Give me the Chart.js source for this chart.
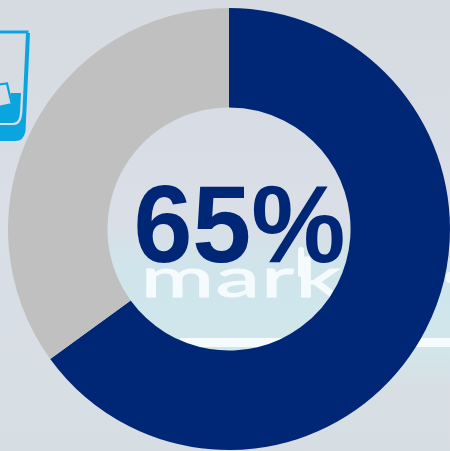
<!DOCTYPE html>
<html>
<head>
<meta charset="utf-8">
<style>
  html, body { margin: 0; padding: 0; width: 450px; height: 451px; overflow: hidden; }
  body { position: relative; background: linear-gradient(180deg, #d5dbe0 0%, #d9dee7 45%, #d7dee3 100%); }
  #glow { position: absolute; left: 100px; top: 225px; width: 350px; height: 165px;
          background: linear-gradient(180deg, rgba(205,232,238,0) 0%, rgba(205,230,236,.75) 25%, #cee6ec 50%, #d2e6ea 75%, rgba(214,221,225,0) 100%); }
  #rule { position: absolute; left: 180px; top: 338px; width: 270px; height: 9px; background: #f6fcfd; filter: blur(.6px); }
  #word { position: absolute; left: 141px; top: 242px; color: #f5fbfc; font: 400 56px/70px "Lato", sans-serif;
          -webkit-text-stroke: 1.1px #f5fbfc; letter-spacing: 1.2px; transform-origin: 0 0; transform: scale(1.58, .98); filter: blur(.5px); }
  #stem { position: absolute; left: 298px; top: 247px; width: 6px; height: 30px; border-radius: 3px; background: #f5fbfc; filter: blur(.5px); }
  #tail { position: absolute; left: 446px; top: 272px; width: 8px; height: 11px; border-radius: 4px; background: #eef8fa; filter: blur(.6px); }
  #glass { position: absolute; left: 0; top: 0; }
  #chart { position: absolute; left: 0; top: 0; }
</style>
</head>
<body>
<div id="glow"></div>
<div id="rule"></div>
<div id="word">mark</div>
<div id="stem"></div>
<div id="tail"></div>
<svg id="glass" width="40" height="150" viewBox="0 0 40 150">
  <!-- rim and outer wall of the tumbler -->
  <path d="M-4 32 H28.5" fill="none" stroke="#0aa5df" stroke-width="3"/>
  <path d="M-2 141 H15 Q24 141 25.5 131 L30 33 L26 33 L22.5 110 Q22 125 14 125 H-2 Z" fill="#0aa5df"/>
  <!-- water with the ice cube sitting in it -->
  <path d="M-2 123 H13 Q19.5 123 20 112 L21 93 H10.5 L12 103 L-2 106 Z" fill="#0aa5df"/>
  <path d="M-2 84.5 L7 83.5 L11.5 103" fill="none" stroke="#0aa5df" stroke-width="2.2"/>
</svg>
<canvas id="chart" width="450" height="451"></canvas>
<script src="https://cdn.jsdelivr.net/npm/chart.js@4/dist/chart.umd.min.js"></script>
<script>
const categories = ['Yes', 'No'];
const shares = [65, 35];
const sliceColors = ['#002776', '#c0c0c0'];
const centerLabel = '65%';

// Writes the headline figure in the hole of the ring, stretched a little in height
const centerText = {
  id: 'centerText',
  afterDatasetsDraw(chart) {
    const arc = chart.getDatasetMeta(0).data[0];
    const c = chart.ctx;
    c.save();
    c.translate(arc.x + 10.5, arc.y + 33);
    c.scale(1, 1.04);
    c.font = 'bold 106px "Liberation Sans", Arial, sans-serif';
    c.fillStyle = '#002776';
    c.textAlign = 'center';
    c.textBaseline = 'alphabetic';
    c.fillText(centerLabel, 0, 0);
    c.restore();
  }
};

new Chart(document.getElementById('chart'), {
  type: 'doughnut',
  data: {
    labels: categories,
    datasets: [{ data: shares, backgroundColor: sliceColors, borderWidth: 0 }]
  },
  options: {
    responsive: false,
    animation: false,
    cutout: '55%',
    layout: { padding: { left: 8, right: -1, top: 7, bottom: 0 } },
    plugins: { legend: { display: false }, tooltip: { enabled: false } }
  },
  plugins: [centerText]
});
</script>
</body>
</html>
